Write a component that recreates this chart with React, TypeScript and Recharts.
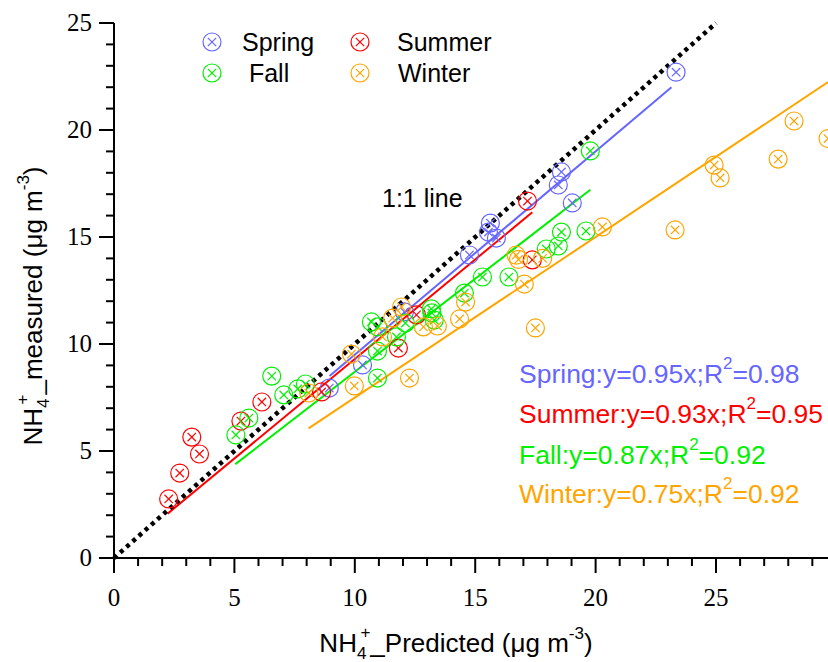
import React from 'react';
import { ScatterChart, Scatter, XAxis, YAxis, ReferenceLine } from 'recharts';

const seasons = ['Spring', 'Summer', 'Fall', 'Winter'];
const seasonColors = ['#6666FF', '#FF0000', '#00F000', '#FFA500'];

// predicted (x) / measured (y), ug m-3
const springX = [23.34, 18.58, 18.45, 19.03, 15.63, 15.55, 15.88, 14.76, 10.32, 8.94, 12.06];
const springY = [22.7, 18.04, 17.43, 16.59, 15.65, 15.23, 14.95, 14.16, 9.02, 7.94, 11.5];

const summerX = [2.27, 2.73, 3.23, 3.55, 5.27, 6.14, 8.62, 11.81, 12.56, 17.37, 17.17];
const summerY = [2.76, 3.97, 5.65, 4.86, 6.4, 7.29, 7.76, 9.81, 11.36, 13.93, 16.68];

const fallX = [5.06, 5.6, 6.55, 7.05, 7.63, 7.95, 10.69, 10.95, 12.1, 11.73, 10.94, 10.94, 13.18, 13.2, 13.3, 14.55, 15.3, 16.4, 17.95, 18.45, 18.58, 19.6, 19.78];
const fallY = [5.75, 6.54, 8.5, 7.62, 7.9, 8.13, 11.03, 10.8, 10.98, 10.33, 9.67, 8.41, 11.64, 11.45, 11.12, 12.38, 13.13, 13.13, 14.44, 14.58, 15.23, 15.28, 19.02];

const winterX = [8.09, 9.86, 9.98, 11.15, 11.57, 11.94, 12.27, 12.85, 13.43, 14.35, 14.6, 16.7, 16.8, 17.04, 17.5, 17.8, 20.28, 23.3, 24.92, 25.17, 27.58, 28.24, 29.65];
const winterY = [7.71, 9.53, 8.04, 10.33, 11.21, 11.73, 8.41, 10.8, 10.84, 11.17, 11.96, 14.15, 13.95, 12.8, 10.75, 14.0, 15.47, 15.33, 18.36, 17.76, 18.64, 20.42, 19.6];

const slopes = [0.95, 0.93, 0.87, 0.75];
const r2 = ['0.98', '0.95', '0.92', '0.92'];
const fitStart = [8.95, 2.23, 5.04, 8.08];
const fitEnd = [23.15, 17.37, 19.78, 29.65];

const xTicks = [0, 1, 2, 3, 4, 5, 6, 7, 8, 9, 10, 11, 12, 13, 14, 15, 16, 17, 18, 19, 20, 21, 22, 23, 24, 25, 26, 27, 28, 29];
const yTicks = [0, 1, 2, 3, 4, 5, 6, 7, 8, 9, 10, 11, 12, 13, 14, 15, 16, 17, 18, 19, 20, 21, 22, 23, 24, 25];

const seriesX = [springX, summerX, fallX, winterX];
const seriesY = [springY, summerY, fallY, winterY];
const seriesData = seriesX.map((xs, i) => xs.map((x, j) => ({ x, y: seriesY[i][j] })));

const SANS = '"Liberation Sans", Arial, sans-serif';
const SERIF = '"Liberation Serif", "Times New Roman", serif';

const CrossCircle = ({ cx, cy, color }: any) => {
  if (cx == null || cy == null) return <g />;
  const d = 4.2;
  return (
    <g stroke={color} fill="none" strokeWidth={1.2}>
      <circle cx={cx} cy={cy} r={9} />
      <line x1={cx - d} y1={cy - d} x2={cx + d} y2={cy + d} />
      <line x1={cx - d} y1={cy + d} x2={cx + d} y2={cy - d} />
    </g>
  );
};

const XTick = ({ x, y, payload }: any) => {
  const v = payload.value;
  const major = v % 5 === 0;
  return (
    <g>
      <line x1={x} x2={x} y1={y} y2={y + (major ? 15 : 8)} stroke="#000" strokeWidth={2} />
      {major && (
        <text x={x} y={y + 48} textAnchor="middle" fontFamily={SERIF} fontSize={25} fill="#000">
          {v}
        </text>
      )}
    </g>
  );
};

const YTick = ({ x, y, payload }: any) => {
  const v = payload.value;
  const major = v % 5 === 0;
  return (
    <g>
      <line x1={x} x2={x - (major ? 15 : 8)} y1={y} y2={y} stroke="#000" strokeWidth={2} />
      {major && (
        <text x={x - 22} y={y + 8} textAnchor="end" fontFamily={SERIF} fontSize={25} fill="#000">
          {v}
        </text>
      )}
    </g>
  );
};

const legendPos = [
  { mx: 212, my: 42, tx: 242 },
  { mx: 360, my: 42, tx: 397 },
  { mx: 212, my: 73, tx: 242 },
  { mx: 360, my: 73, tx: 398 },
];
const legendText = ['Spring', 'Summer', ' Fall', 'Winter'];
const noteBaselines = [383, 423, 464, 503];

export default function App() {
  return (
    <div style={{ position: 'absolute', left: 0, top: 0, width: 828, height: 662, background: '#fff' }}>
      <ScatterChart width={828} height={662} margin={{ top: 23, right: 0, bottom: 44, left: 0 }}>
        <XAxis
          type="number"
          dataKey="x"
          domain={[0, 29.65]}
          ticks={xTicks}
          interval={0}
          height={60}
          tickSize={0}
          tickMargin={0}
          tickLine={false}
          tick={<XTick />}
          axisLine={{ stroke: '#000', strokeWidth: 2 }}
          allowDataOverflow
        />
        <YAxis
          type="number"
          dataKey="y"
          domain={[0, 25]}
          ticks={yTicks}
          interval={0}
          width={114}
          tickSize={0}
          tickMargin={0}
          tickLine={false}
          tick={<YTick />}
          axisLine={{ stroke: '#000', strokeWidth: 2 }}
          allowDataOverflow
        />
        {seasons.map((s, i) => (
          <ReferenceLine
            key={'fit-' + s}
            segment={[
              { x: fitStart[i], y: slopes[i] * fitStart[i] },
              { x: fitEnd[i], y: slopes[i] * fitEnd[i] },
            ]}
            stroke={seasonColors[i]}
            strokeWidth={2}
          />
        ))}
        <ReferenceLine
          segment={[{ x: 0, y: 0 }, { x: 25, y: 25 }]}
          stroke="#000"
          strokeWidth={4.5}
          strokeDasharray="4 4.3"
        />
        {seasons.map((s, i) => (
          <Scatter
            key={s}
            name={s}
            data={seriesData[i]}
            isAnimationActive={false}
            shape={(p: any) => <CrossCircle {...p} color={seasonColors[i]} />}
          />
        ))}
      </ScatterChart>
      <svg
        width={828}
        height={662}
        style={{ position: 'absolute', left: 0, top: 0, pointerEvents: 'none' }}
      >
        {seasons.map((s, i) => (
          <g key={'leg-' + s}>
            <CrossCircle cx={legendPos[i].mx} cy={legendPos[i].my} color={seasonColors[i]} />
            <text
              x={legendPos[i].tx}
              y={legendPos[i].my + 9}
              fontFamily={SANS}
              fontSize={25}
              fill="#000"
              style={{ whiteSpace: 'pre' }}
            >
              {legendText[i]}
            </text>
          </g>
        ))}
        <text x={382} y={207} fontFamily={SANS} fontSize={25} fill="#000">
          1:1 line
        </text>
        {seasons.map((s, i) => (
          <text key={'note-' + s} x={519} y={noteBaselines[i]} fontFamily={SANS} fontSize={26.5} fill={seasonColors[i]}>
            {s}:y={slopes[i]}x;R
            <tspan dy={-14} fontSize={17}>2</tspan>
            <tspan dy={14}>={r2[i]}</tspan>
          </text>
        ))}
        <text x={456} y={652} textAnchor="middle" fontFamily={SANS} fontSize={26} fill="#000">
          NH
          <tspan dy={7} fontSize={17}>4</tspan>
          <tspan dx={-6} dy={-21} fontSize={17}>+</tspan>
          <tspan dy={14}>_Predicted (μg m</tspan>
          <tspan dy={-13} fontSize={17}>-3</tspan>
          <tspan dy={13}>)</tspan>
        </text>
        <text
          transform="translate(42,306) rotate(-90)"
          x={0}
          y={0}
          textAnchor="middle"
          fontFamily={SANS}
          fontSize={26}
          fill="#000"
        >
          NH
          <tspan dy={7} fontSize={17}>4</tspan>
          <tspan dx={-6} dy={-21} fontSize={17}>+</tspan>
          <tspan dy={14}>_measured (μg m</tspan>
          <tspan dy={-13} fontSize={17}>-3</tspan>
          <tspan dy={13}>)</tspan>
        </text>
      </svg>
    </div>
  );
}
